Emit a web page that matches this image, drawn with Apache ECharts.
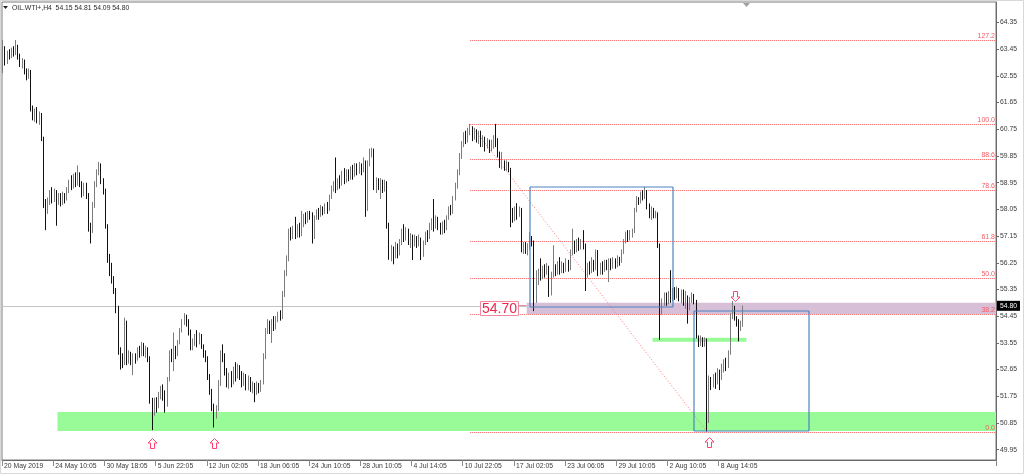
<!DOCTYPE html>
<html><head><meta charset="utf-8">
<script src="https://cdn.jsdelivr.net/npm/echarts@6/dist/echarts.min.js"></script>
<style>html,body{margin:0;padding:0;background:#fff}#c{width:1024px;height:474px}</style>
</head><body><div id="c"></div><script>
const symbolName = 'OIL.WTI+,H4';
const lastQuote = ['54.15', '54.81', '54.09', '54.80'];
const timeLabels = ['20 May 2019', '24 May 10:05', '30 May 18:05', '5 Jun 22:05', '12 Jun 02:05', '18 Jun 06:05', '24 Jun 10:05', '28 Jun 10:05', '4 Jul 14:05', '10 Jul 22:05', '17 Jul 02:05', '23 Jul 06:05', '29 Jul 10:05', '2 Aug 10:05', '8 Aug 14:05'];
const barsPerLabel = 24;
const slotCount = 466;
const priceTicks = [49.95, 50.85, 51.75, 52.65, 53.55, 54.45, 55.35, 56.25, 57.15, 58.05, 58.95, 59.85, 60.75, 61.65, 62.55, 63.45, 64.35];
// [open, close, low, high]
const candles = [
[63.20,63.45,62.65,63.76],[63.45,63.05,62.90,63.55],[63.05,63.30,62.95,63.40],[63.30,63.25,63.10,63.45],[63.25,63.40,63.15,63.50],
[63.40,63.35,63.20,63.55],[63.35,63.55,63.25,63.76],[63.55,63.20,63.10,63.60],[63.20,62.95,62.85,63.30],[62.95,63.05,62.80,63.15],
[63.05,62.70,62.60,63.10],[62.70,62.55,62.40,62.80],[62.55,62.70,62.45,62.80],[62.70,61.45,61.35,62.75],[61.45,61.20,61.05,61.55],
[61.20,61.35,61.00,61.45],[61.35,61.10,60.95,61.50],[61.10,61.25,60.90,61.35],[61.25,60.45,60.35,61.30],[60.45,58.25,58.10,60.50],
[58.25,58.05,57.35,58.40],[58.05,58.30,57.90,58.45],[58.30,58.55,58.20,58.70],[58.55,58.40,58.25,58.80],[58.40,58.65,58.30,58.75],
[58.65,58.35,57.50,58.70],[58.35,58.50,58.20,58.60],[58.50,58.30,58.15,58.60],[58.30,58.55,58.20,58.65],[58.55,58.40,58.25,58.60],
[58.40,58.70,58.35,58.80],[58.70,58.95,58.60,59.05],[58.95,58.85,58.70,59.20],[58.85,59.10,58.75,59.25],[59.10,58.95,58.80,59.30],
[58.95,59.20,58.85,59.53],[59.20,58.90,58.80,59.30],[58.90,58.70,58.45,59.00],[58.70,58.85,58.50,58.95],[58.85,58.55,58.40,58.95],
[58.55,57.40,57.30,58.60],[57.40,57.35,56.90,57.60],[57.35,58.20,57.25,58.30],[58.20,58.90,58.10,59.00],[58.90,59.30,58.80,59.40],
[59.30,59.55,59.20,59.65],[59.55,59.00,58.90,59.60],[59.00,58.70,58.55,59.10],[58.70,57.50,57.40,58.75],[57.50,56.35,56.25,57.55],
[56.35,56.10,55.80,56.55],[56.10,55.70,55.55,56.25],[55.70,55.30,55.20,55.80],[55.30,54.70,54.55,55.40],[54.70,53.25,53.15,54.80],
[53.25,53.00,52.65,53.40],[53.00,52.85,52.70,53.20],[52.85,54.25,52.80,54.40],[54.25,52.95,52.80,54.30],[52.95,53.15,52.85,53.30],
[53.15,52.95,52.80,53.25],[52.95,53.10,52.46,53.20],[53.10,53.00,52.85,53.20],[53.00,53.30,52.95,53.40],[53.30,53.20,53.05,53.45],
[53.20,53.45,53.10,53.58],[53.45,53.25,53.10,53.55],[53.25,53.35,53.05,53.45],[53.35,53.05,52.90,53.40],[53.05,51.60,51.50,53.10],
[51.60,51.15,50.61,51.70],[51.15,51.55,51.10,51.70],[51.55,51.40,51.20,51.72],[51.40,51.75,51.35,51.90],[51.75,52.00,51.65,52.10],
[52.00,51.80,51.60,52.15],[51.80,51.45,51.20,51.95],[51.45,52.30,51.40,52.40],[52.30,53.20,52.25,53.30],[53.20,53.05,52.90,53.35],
[53.05,53.30,52.60,53.90],[53.30,53.15,53.00,53.45],[53.15,53.55,53.10,53.65],[53.55,53.95,53.50,54.05],[53.95,54.25,53.90,54.35],
[54.25,54.40,54.15,54.55],[54.40,54.25,54.10,54.50],[54.25,53.90,53.80,54.35],[53.90,53.40,53.30,54.00],[53.40,53.55,53.30,53.70],
[53.55,53.70,53.45,53.85],[53.70,53.60,53.40,53.98],[53.60,53.80,53.50,53.90],[53.80,53.45,53.35,53.85],[53.45,53.20,53.05,53.50],
[53.20,53.05,52.90,53.30],[53.05,52.40,52.30,53.10],[52.40,51.90,51.80,52.50],[51.90,51.40,51.25,52.00],[51.40,51.15,50.70,51.50],
[51.15,51.30,51.00,51.45],[51.30,52.20,51.25,52.30],[52.20,53.20,52.10,53.30],[53.20,53.10,52.90,53.50],[53.10,52.60,52.45,53.20],
[52.60,52.15,52.05,52.70],[52.15,52.40,52.00,52.55],[52.40,52.25,52.05,52.60],[52.25,52.60,52.15,52.75],[52.60,52.45,52.25,52.90],
[52.45,52.70,52.35,52.85],[52.70,52.50,52.30,52.80],[52.50,52.20,52.05,52.60],[52.20,52.45,52.10,52.55],[52.45,52.10,51.95,52.50],
[52.10,52.30,51.95,52.45],[52.30,52.05,51.90,52.40],[52.05,52.15,51.85,52.25],[52.15,51.95,51.55,52.20],[51.95,52.10,51.80,52.25],
[52.10,52.00,51.85,52.20],[52.00,52.20,51.90,52.30],[52.20,53.10,52.15,53.20],[53.10,53.95,53.00,54.05],[53.95,54.20,53.85,54.35],
[54.20,54.00,53.85,54.30],[54.00,54.25,53.55,54.35],[54.25,54.10,53.95,54.45],[54.10,54.35,54.00,54.45],[54.35,54.50,54.25,54.60],
[54.50,54.40,54.30,54.65],[54.40,55.20,54.35,55.30],[55.20,55.90,55.10,56.00],[55.90,56.40,55.80,56.50],[56.40,57.30,56.30,57.40],
[57.30,57.15,57.00,57.45],[57.15,57.40,57.05,57.50],[57.40,57.20,57.05,57.80],[57.20,57.45,57.10,57.55],[57.45,57.25,57.10,57.60],
[57.25,57.55,57.15,58.00],[57.55,57.80,57.45,57.90],[57.80,57.70,57.55,57.95],[57.70,57.90,57.60,58.00],[57.90,57.85,57.70,58.00],
[57.85,57.10,56.90,57.95],[57.10,57.75,57.05,57.85],[57.75,57.95,57.70,58.05],[57.95,57.85,57.70,58.10],[57.85,58.10,57.80,58.20],
[58.10,57.95,57.85,58.15],[57.95,58.15,57.90,58.25],[58.15,58.05,57.90,58.30],[58.05,58.45,58.00,58.55],[58.45,58.75,58.40,58.85],
[58.75,58.90,58.65,59.00],[58.90,58.80,58.60,59.80],[58.80,59.00,58.70,59.10],[59.00,58.90,58.75,59.20],[58.90,59.20,58.85,59.35],
[59.20,59.05,58.90,59.44],[59.05,59.30,58.95,59.40],[59.30,59.15,59.00,59.40],[59.15,59.40,59.05,59.50],[59.40,59.25,59.05,59.55],
[59.25,59.50,59.15,59.61],[59.50,59.35,59.20,59.60],[59.35,59.55,59.25,59.65],[59.55,59.40,59.20,59.60],[59.40,59.65,59.30,59.80],
[59.65,58.10,57.80,59.70],[58.10,59.60,58.00,59.70],[59.60,59.95,59.50,60.10],[59.95,60.05,59.80,60.13],[60.05,58.80,58.70,60.10],
[58.80,59.05,58.60,59.13],[59.05,58.85,58.70,59.10],[58.85,59.00,58.40,59.10],[59.00,58.75,58.60,59.05],[58.75,58.95,58.65,59.05],
[58.95,57.50,57.40,59.00],[57.50,56.45,56.35,57.60],[56.45,56.70,56.30,56.85],[56.70,56.50,56.20,56.80],[56.50,56.80,56.40,56.95],
[56.80,56.60,56.40,56.90],[56.60,56.95,56.50,57.05],[56.95,57.30,56.85,57.40],[57.30,57.10,56.95,57.55],[57.10,57.35,57.00,57.45],
[57.35,57.00,56.85,57.40],[57.00,57.15,56.75,57.25],[57.15,56.95,56.34,57.20],[56.95,57.10,56.80,57.20],[57.10,56.90,56.75,57.15],
[56.90,57.05,56.80,57.20],[57.05,56.50,56.34,57.10],[56.50,56.90,56.45,57.00],[56.90,57.20,56.85,57.30],[57.20,57.10,56.95,57.35],
[57.10,57.40,57.05,57.60],[57.40,57.65,57.35,57.75],[57.65,57.45,57.30,58.40],[57.45,57.75,57.40,57.85],[57.75,57.50,57.35,57.80],
[57.50,57.30,57.20,57.60],[57.30,57.55,57.20,57.65],[57.55,57.40,57.25,57.70],[57.40,57.75,57.35,57.85],[57.75,58.05,57.70,58.15],
[58.05,57.95,57.85,58.20],[57.95,58.40,57.90,58.50],[58.40,58.85,58.35,58.95],[58.85,59.30,58.75,59.40],[59.30,59.85,59.20,59.95],
[59.85,60.25,59.75,60.35],[60.25,60.55,60.15,60.65],[60.55,60.40,60.25,60.70],[60.40,60.70,60.30,60.80],[60.70,60.75,60.55,60.93],
[60.75,60.50,60.35,60.85],[60.50,60.65,60.40,60.80],[60.65,60.45,60.30,60.75],[60.45,60.60,60.25,60.70],[60.60,60.30,60.15,60.70],
[60.30,60.45,60.15,60.55],[60.45,60.20,60.00,60.50],[60.20,60.35,60.10,60.45],[60.35,60.10,59.95,60.40],[60.10,60.25,60.00,60.40],
[60.25,60.40,60.10,60.55],[60.40,60.35,60.15,60.93],[60.35,59.90,59.80,60.45],[59.90,59.55,59.45,60.00],[59.55,59.60,59.40,59.98],
[59.60,59.45,59.35,59.70],[59.45,59.60,59.35,59.70],[59.60,59.40,59.30,59.65],[59.40,58.00,57.45,59.45],[58.00,57.75,57.60,58.10],
[57.75,58.05,57.65,58.15],[58.05,57.90,57.70,58.26],[57.90,58.05,57.80,58.15],[58.05,56.70,56.60,58.10],[56.70,56.85,56.55,56.95],
[56.85,56.65,56.55,56.95],[56.65,56.80,56.50,56.91],[56.80,57.05,56.70,57.28],[57.05,56.90,56.80,57.15],[56.90,54.95,54.62,57.00],
[54.95,55.60,54.90,56.00],[55.60,55.95,55.50,56.05],[55.95,55.80,55.65,56.40],[55.80,56.05,55.70,56.15],[56.05,55.90,55.75,56.20],
[55.90,56.10,55.85,56.24],[56.10,55.20,55.10,56.15],[55.20,55.85,55.15,55.95],[55.85,56.10,55.75,56.84],[56.10,55.95,55.80,56.20],
[55.95,56.20,55.85,56.30],[56.20,55.95,55.85,56.44],[55.95,56.15,55.90,56.30],[56.15,56.00,55.90,56.25],[56.00,56.25,55.95,56.40],
[56.25,56.05,55.95,56.35],[56.05,56.60,56.00,56.70],[56.60,56.85,56.50,57.40],[56.85,56.70,56.55,57.00],[56.70,56.95,56.60,57.05],
[56.95,56.80,56.65,57.10],[56.80,56.95,56.70,57.05],[56.95,56.85,56.70,57.35],[56.85,55.85,55.30,56.90],[55.85,56.10,55.75,56.25],
[56.10,56.00,55.85,56.30],[56.00,56.30,55.90,56.44],[56.30,56.05,55.95,56.35],[56.05,56.60,56.00,56.70],[56.60,55.90,55.80,56.68],
[55.90,56.15,55.85,56.25],[56.15,56.00,55.85,56.30],[56.00,56.25,55.95,56.35],[56.25,56.10,56.00,56.35],[56.10,56.30,55.60,56.40],
[56.30,56.15,56.00,56.40],[56.15,56.35,56.05,56.44],[56.35,56.20,56.05,56.40],[56.20,56.40,56.10,56.50],[56.40,56.30,56.15,56.45],
[56.30,56.60,56.25,56.70],[56.60,56.95,56.55,57.05],[56.95,57.20,56.90,57.30],[57.20,57.05,56.95,57.35],[57.05,57.25,57.00,57.35],
[57.25,57.30,57.10,57.40],[57.30,58.00,57.25,58.10],[58.00,58.40,57.95,58.50],[58.40,58.30,58.20,58.46],[58.30,58.55,58.25,58.65],
[58.55,58.45,58.35,58.70],[58.45,58.65,58.40,58.82],[58.65,58.15,58.05,58.70],[58.15,57.90,57.75,58.25],[57.90,58.05,57.69,58.15],
[58.05,57.85,57.75,58.10],[57.85,57.90,57.75,58.00],[57.90,56.85,56.75,57.95],[56.85,54.60,53.65,56.90],[54.60,54.90,54.50,55.05],
[54.90,55.15,54.80,55.25],[55.15,54.95,54.80,55.25],[54.95,55.20,54.85,55.30],[55.20,55.05,54.90,56.00],[55.05,55.30,54.95,55.40],
[55.30,55.15,55.00,55.43],[55.15,55.35,55.05,55.45],[55.35,55.10,54.95,55.40],[55.10,55.25,54.89,55.35],[55.25,54.95,54.80,55.35],
[54.95,55.10,54.70,55.30],[55.10,54.75,54.20,55.15],[54.75,55.00,54.65,55.10],[55.00,55.15,54.90,55.25],[55.15,54.95,54.85,55.20],
[54.95,53.80,53.70,55.00],[53.80,53.55,53.41,53.80],[53.55,53.70,53.45,53.80],[53.70,53.50,53.41,53.74],[53.50,53.65,53.42,53.74],
[53.65,50.90,50.56,53.70],[50.90,52.30,50.85,52.45],[52.30,52.15,51.96,52.40],[52.15,52.40,52.05,52.50],[52.40,52.25,52.00,52.55],
[52.25,52.55,52.15,52.70],[52.55,52.40,51.96,52.65],[52.40,52.70,52.30,52.85],[52.70,52.85,52.55,53.00],[52.85,52.75,52.60,53.05],
[52.75,53.20,52.70,53.30],[53.20,54.45,53.15,54.55],[54.45,54.75,54.35,54.96],[54.75,54.40,54.30,54.80],[54.40,54.25,54.10,54.45],
[54.25,54.10,53.60,54.35],[54.10,54.15,53.95,54.30],[54.15,54.80,54.09,54.81]
];
const fibLevels = [0.0, 38.2, 50.0, 61.8, 78.6, 88.6, 100.0, 127.2];
const fibHigh = [219, 60.93];   // bar index, price (100.0)
const fibLow = [330, 50.56];    // bar index, price (0.0)
const zones = [[26, 51.22, 50.58, '#98fb98'], [246, 54.905, 54.52, '#d8bfd8']]; // start bar, top, bottom
const boxes = [[247, 314, 58.79, 54.77], [324, 378, 54.61, 50.58]];
const greenLine = [[305, 348, 53.66]];
const upArrows = [[70, 50.18], [99, 50.18], [331, 50.20]];
const downArrows = [[343, 55.13]];
const priceTag = [[246, 54.70]];
const currentPrice = 54.80;

const FONT = '"Liberation Sans", Arial, sans-serif';
const categories = Array.from({length: slotCount}, (_, i) => String(i));
const isLabelSlot = (i) => i % barsPerLabel === 0 && i / barsPerLabel < timeLabels.length;

const chart = echarts.init(document.getElementById('c'), null, {renderer: 'canvas'});

function rightEdge(params) { return params.coordSys.x + params.coordSys.width; }
const snap = (v) => Math.round(v) + 0.5;
const BOX_BLUE = '#4b84c0';

const option = {
  animation: false,
  backgroundColor: '#ffffff',
  grid: {left: 2, right: 28, top: 2, bottom: 14, show: true, borderColor: '#7a7a7a', borderWidth: 1, backgroundColor: 'transparent'},
  xAxis: {
    type: 'category', data: categories, boundaryGap: true,
    axisLine: {show: true, lineStyle: {color: '#6a6a6a'}},
    axisTick: {show: true, interval: (i) => isLabelSlot(i), length: 6, lineStyle: {color: '#8a8a8a'}},
    axisLabel: {show: true, interval: (i) => isLabelSlot(i), formatter: (v, i) => isLabelSlot(i) ? timeLabels[i / barsPerLabel] : '',
      align: 'left', margin: 3, padding: [0, 0, 0, 1], fontSize: 6.8, fontFamily: FONT, color: '#3a3a3a', hideOverlap: false},
    splitLine: {show: false}
  },
  yAxis: {
    type: 'value', position: 'right', min: 49.603, max: 65.04, scale: true,
    axisLine: {show: true, lineStyle: {color: '#6a6a6a'}},
    axisTick: {show: true, length: 3, inside: false, customValues: priceTicks, lineStyle: {color: '#6a6a6a'}},
    axisLabel: {show: true, customValues: priceTicks, formatter: (v) => v.toFixed(2), margin: 4, fontSize: 6.8, fontFamily: FONT, color: '#3a3a3a'},
    splitLine: {show: false}
  },
  series: [
    { // background zones
      type: 'custom', z: 1, data: zones, silent: true,
      renderItem(params, api) {
        const w = api.size([1, 0])[0];
        const a = api.coord([api.value(0), api.value(1)]);
        const b = api.coord([api.value(0), api.value(2)]);
        const x0 = a[0] - w / 2;
        return {type: 'rect', shape: {x: x0, y: a[1], width: rightEdge(params) - x0, height: b[1] - a[1]},
          style: {fill: zones[params.dataIndex][3]}};
      }
    },
    { // small green line
      type: 'custom', z: 1, data: greenLine, silent: true,
      renderItem(params, api) {
        const w = api.size([1, 0])[0];
        const a = api.coord([api.value(0), api.value(2)]);
        const b = api.coord([api.value(1), api.value(2)]);
        return {type: 'rect', shape: {x: a[0] - w / 2, y: a[1] - 2, width: b[0] - a[0] + w, height: 4}, style: {fill: '#98fb98'}};
      }
    },
    {
      type: 'candlestick', z: 3, data: candles, barWidth: 1.2,
      itemStyle: {color: '#9a9a9a', color0: '#111111', borderColor: '#7c7c7c', borderColor0: '#111111', borderWidth: 1},
      markLine: {
        silent: true, symbol: ['none', 'none'], z: 0,
        lineStyle: {color: '#c4c4c4', type: 'solid', width: 1},
        label: {position: 'end', formatter: currentPrice.toFixed(2), backgroundColor: '#000', color: '#fff', padding: [2, 3, 1, 3],
          fontSize: 6.8, fontFamily: FONT, distance: 1},
        data: [{yAxis: currentPrice}]
      }
    },
    { // fibonacci levels
      type: 'custom', z: 2, silent: true,
      data: fibLevels.map((lv) => [fibHigh[0], fibLow[1] + (fibHigh[1] - fibLow[1]) * lv / 100, lv]),
      renderItem(params, api) {
        const p = api.coord([api.value(0), api.value(1)]);
        const r = rightEdge(params);
        const y = snap(p[1]);
        return {type: 'group', children: [
          {type: 'line', shape: {x1: p[0], y1: y, x2: r, y2: y}, style: {stroke: '#ff5a5a', lineWidth: 1, lineDash: [1, 1]}},
          {type: 'text', x: r - 1, y: y - 1, style: {text: api.value(2).toFixed(1), fill: '#f25c64', fontSize: 7, fontFamily: FONT, align: 'right', verticalAlign: 'bottom'}}
        ]};
      }
    },
    { // fib diagonal
      type: 'custom', z: 2, silent: true, data: [[fibHigh[0], fibHigh[1], fibLow[0], fibLow[1]]],
      renderItem(params, api) {
        const a = api.coord([api.value(0), api.value(1)]);
        const b = api.coord([api.value(2), api.value(3)]);
        return {type: 'line', shape: {x1: a[0], y1: a[1], x2: b[0], y2: b[1]}, style: {stroke: '#ff7a7a', lineWidth: 1, lineDash: [1, 2]}};
      }
    },
    { // blue boxes (four sides)
      type: 'custom', z: 4, silent: true, data: boxes,
      renderItem(params, api) {
        const a = api.coord([api.value(0), api.value(2)]);
        const b = api.coord([api.value(1), api.value(3)]);
        const x0 = Math.round(a[0]), y0 = Math.round(a[1]), x1 = Math.round(b[0]), y1 = Math.round(b[1]);
        const st = {stroke: BOX_BLUE, lineWidth: 1.2, fill: null};
        return {type: 'group', children: [
          {type: 'line', shape: {x1: x0, y1: y0, x2: x1, y2: y0}, style: st},
          {type: 'line', shape: {x1: x1, y1: y0, x2: x1, y2: y1}, style: st},
          {type: 'line', shape: {x1: x1, y1: y1, x2: x0, y2: y1}, style: st},
          {type: 'line', shape: {x1: x0, y1: y1, x2: x0, y2: y0}, style: st}
        ]};
      }
    },
    { // up arrows
      type: 'custom', z: 5, silent: true, data: upArrows,
      renderItem(params, api) {
        const p = api.coord([api.value(0), api.value(1)]);
        const cx = Math.round(p[0]) + 0.5, cy = Math.round(p[1]) + 0.5;
        return {type: 'polygon', shape: {points: [[cx, cy - 5], [cx + 4.5, cy - 0.5], [cx + 2, cy - 0.5], [cx + 2, cy + 5], [cx - 2, cy + 5], [cx - 2, cy - 0.5], [cx - 4.5, cy - 0.5]]},
          style: {fill: '#fff', stroke: '#ff4470', lineWidth: 1}};
      }
    },
    { // down arrows
      type: 'custom', z: 5, silent: true, data: downArrows,
      renderItem(params, api) {
        const p = api.coord([api.value(0), api.value(1)]);
        const cx = Math.round(p[0]) + 0.5, cy = Math.round(p[1]) + 0.5;
        return {type: 'polygon', shape: {points: [[cx, cy + 5], [cx + 4.5, cy + 0.5], [cx + 2, cy + 0.5], [cx + 2, cy - 5], [cx - 2, cy - 5], [cx - 2, cy + 0.5], [cx - 4.5, cy + 0.5]]},
          style: {fill: '#fff', stroke: '#ff4470', lineWidth: 1}};
      }
    },
    { // price tag 54.70
      type: 'custom', z: 6, silent: true, data: priceTag,
      renderItem(params, api) {
        const w = api.size([1, 0])[0];
        const p = api.coord([api.value(0), api.value(1)]);
        const right = Math.round(p[0] - w / 2) - 8.5;
        const cy = Math.round(p[1]);
        return {type: 'group', children: [
          {type: 'rect', shape: {x: right - 38, y: cy - 7.5, width: 38, height: 14}, style: {fill: '#fff', stroke: '#f08aa0', lineWidth: 1}},
          {type: 'text', x: right - 19, y: cy, style: {text: api.value(1).toFixed(2), fill: '#e8284e', fontSize: 14, fontFamily: FONT, align: 'center', verticalAlign: 'middle'}},
          {type: 'line', shape: {x1: right, y1: cy - 3.5, x2: right + 8, y2: cy - 3.5}, style: {stroke: '#f08aa0', lineWidth: 1}}
        ]};
      }
    }
  ],
  graphic: [
    {type: 'rect', shape: {x: 0.5, y: 0.5, width: 1023, height: 473}, style: {fill: 'none', stroke: '#d8d8d8', lineWidth: 1}, silent: true, z: 0},
    {type: 'polygon', shape: {points: [[3, 6], [8, 6], [5.5, 9]]}, style: {fill: '#222'}, silent: true},
    {type: 'text', x: 12, y: 8, style: {text: symbolName + '  ' + lastQuote.join(' '), fill: '#2a2a2a', fontSize: 6.8, fontFamily: FONT, verticalAlign: 'middle'}, silent: true},
    {type: 'polygon', shape: {points: [[743, 3], [750, 3], [746.5, 7]]}, style: {fill: '#a0a0a0'}, silent: true}
  ]
};
chart.setOption(option);
</script></body></html>
